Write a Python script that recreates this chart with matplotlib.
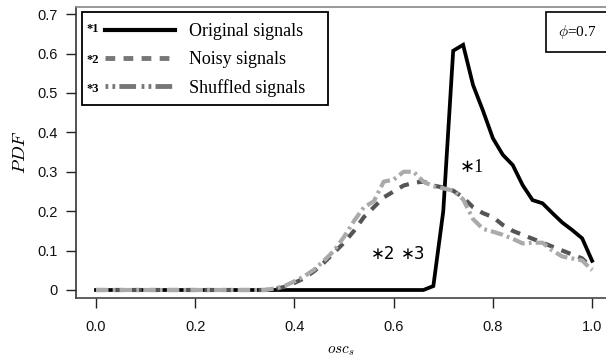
import numpy as np
import matplotlib
matplotlib.use("Agg")
import matplotlib.pyplot as plt
from matplotlib.patches import Rectangle
from matplotlib.lines import Line2D

plt.rcParams['lines.scale_dashes'] = False
plt.rcParams['mathtext.fontset'] = 'cm'

x = [round(0.02 * i, 2) for i in range(51)]

original = [0]*34 + [0.01, 0.2, 0.607, 0.622, 0.52, 0.455, 0.385, 0.343, 0.317,
                     0.266, 0.228, 0.22, 0.195, 0.171, 0.152, 0.131, 0.074]
noisy = [0]*18 + [0.002, 0.008, 0.018, 0.03, 0.048, 0.07, 0.095, 0.12, 0.15, 0.185,
                  0.21, 0.235, 0.25, 0.265, 0.272, 0.275, 0.265, 0.26, 0.252, 0.235,
                  0.21, 0.195, 0.185, 0.165, 0.15, 0.14, 0.13, 0.12, 0.11, 0.1,
                  0.09, 0.08, 0.055]
shuffled = [0]*18 + [0.004, 0.01, 0.022, 0.035, 0.052, 0.075, 0.1, 0.135, 0.175, 0.21,
                     0.225, 0.275, 0.28, 0.3, 0.3, 0.275, 0.263, 0.258, 0.252, 0.23,
                     0.18, 0.155, 0.148, 0.14, 0.13, 0.118, 0.12, 0.12, 0.1, 0.085,
                     0.08, 0.075, 0.05]

labels = ["Original signals", "Noisy signals", "Shuffled signals"]
xticks = [0.0, 0.2, 0.4, 0.6, 0.8, 1.0]
xticklabels = ["0.0", "0.2", "0.4", "0.6", "0.8", "1.0"]
yticks = [0, 0.1, 0.2, 0.3, 0.4, 0.5, 0.6, 0.7]
yticklabels = ["0", "0.1", "0.2", "0.3", "0.4", "0.5", "0.6", "0.7"]

W, H = 606, 360
fig = plt.figure(figsize=(W/100, H/100), dpi=100)
ax = fig.add_axes([76/W, 62/H, 530/W, 291/H])

dark = '#555555'
light = '#aaaaaa'
l1, = ax.plot(x, original, color='black', lw=2.7, solid_joinstyle='miter', zorder=2)
l2, = ax.plot(x, noisy, color=dark, lw=3, linestyle=(0, (7, 6)), zorder=3)
l3, = ax.plot(x, shuffled, color=light, lw=3, linestyle=(0, (9, 3, 2, 3)), zorder=4)

ax.set_xlim(-0.0403, 1.028)
ax.set_ylim(-0.0203, 0.718)

ax.set_xticks(xticks)
ax.set_xticklabels(xticklabels)
ax.set_yticks(yticks)
ax.set_yticklabels(yticklabels)
ax.tick_params(axis='both', direction='out', length=7, width=1, color='#222222',
               labelsize=10.5, labelcolor='#111111')
ax.tick_params(axis='x', pad=9)
ax.tick_params(axis='y', pad=6)
for lab in ax.get_xticklabels() + ax.get_yticklabels():
    lab.set_family('Liberation Sans')

ax.spines['right'].set_visible(False)
ax.spines['top'].set_color('#888888')
ax.spines['left'].set_color('#333333')
ax.spines['bottom'].set_color('#444444')
for s in ['top', 'left', 'bottom']:
    ax.spines[s].set_linewidth(1.2)

ax.set_ylabel('$PDF$', fontsize=13.5, labelpad=6)
ax.set_xlabel('$osc_s$', fontsize=11, labelpad=6)

# legend
h1 = Line2D([], [], color='black', lw=3)
h2 = Line2D([], [], color='#777777', lw=3.5, linestyle=(0, (7, 6)))
h3 = Line2D([], [], color='#777777', lw=3.5, linestyle=(0, (2, 3, 2, 3, 12, 4)))
leg = fig.legend([h1, h2, h3], labels, loc='upper left',
                 bbox_to_anchor=(105/W, 1 - 23/H), frameon=False,
                 borderpad=0, borderaxespad=0, handlelength=3.9,
                 handletextpad=0.75, labelspacing=0.6,
                 prop={'family': 'Liberation Serif', 'size': 13})
fig.add_artist(Rectangle((82/W, 1 - 105/H), (328-82)/W, (105-12)/H,
                         transform=fig.transFigure, fill=False, ec='black', lw=1.3))
for lab, yy in zip(["*1", "*2", "*3"], [29, 60, 89]):
    fig.text(86/W, 1 - yy/H, lab, family='Liberation Serif', fontsize=9,
             fontweight='bold', va='center', ha='left')

# phi box
ax.text(577/W, 1 - 32/H, r'$\phi$=0.7', transform=fig.transFigure, ha='center', va='center',
        family='Liberation Serif', fontsize=11,
        bbox=dict(boxstyle='square,pad=0.75', fc='white', ec='black', lw=1.2))

# annotations
ax.text(0.758, 0.31, '\u22171', fontsize=13, ha='center', va='center',
        family=['Liberation Serif', 'DejaVu Sans'])
ax.text(0.579, 0.091, '\u22172', fontsize=12, ha='center', va='center')
ax.text(0.639, 0.091, '\u22173', fontsize=12, ha='center', va='center')

fig.savefig('out.png', dpi=100)
